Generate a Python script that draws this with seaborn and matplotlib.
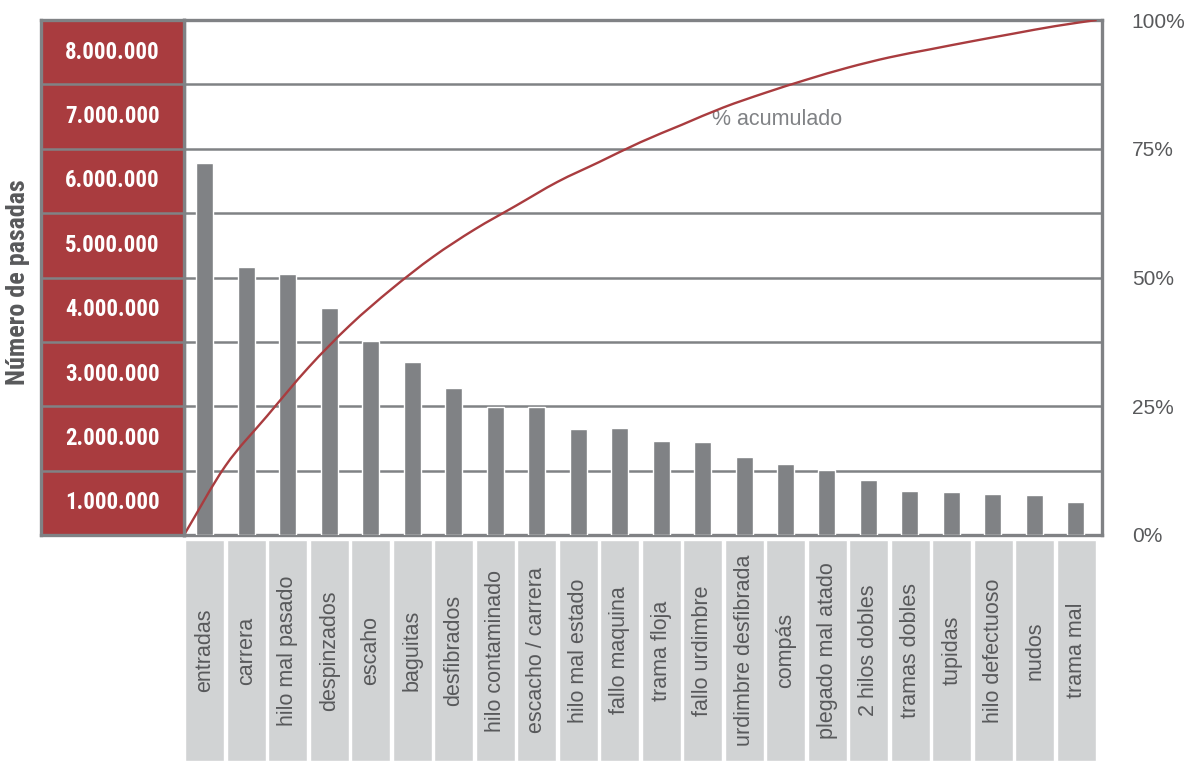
import matplotlib
matplotlib.use("Agg")
import matplotlib.pyplot as plt
from matplotlib import font_manager as fm
from matplotlib.path import Path
from matplotlib.patches import PathPatch
import seaborn as sns
import numpy as np
import pandas as pd

categories = ["entradas", "carrera", "hilo mal pasado", "despinzados", "escaho",
              "baguitas", "desfibrados", "hilo contaminado", "escacho / carrera",
              "hilo mal estado", "fallo maquina", "trama floja", "fallo urdimbre",
              "urdimbre desfibrada", "compás", "plegado mal atado", "2 hilos dobles",
              "tramas dobles", "tupidas", "hilo defectuoso", "nudos", "trama mal"]
pasadas = [5785000, 4156000, 4062000, 3533000, 3019000, 2693000, 2288000,
           1992000, 1992000, 1650000, 1665000, 1463000, 1447000, 1214000,
           1105000, 1012000, 856000, 685000, 669000, 638000, 623000, 514000]
y_ticks = [0, 1000000, 2000000, 3000000, 4000000, 5000000, 6000000, 7000000, 8000000]
y_tick_labels = ["1.000.000", "2.000.000", "3.000.000", "4.000.000",
                 "5.000.000", "6.000.000", "7.000.000", "8.000.000"]
pct_ticks = [0, 25, 50, 75, 100]
pct_labels = ["0%", "25%", "50%", "75%", "100%"]

RED = "#a93c3f"
GRID = "#808285"
BAR = "#808285"
BOX = "#d1d3d4"
TXT = "#58595b"

sns.set_theme(style="white")
plt.rcParams['font.family'] = ['Liberation Sans', 'DejaVu Sans']

# pick a condensed bold face if one is installed
names = {f.name for f in fm.fontManager.ttflist}
cond_dejavu = any(f.name == "DejaVu Sans" and "Condensed" in f.fname for f in fm.fontManager.ttflist)
if "Liberation Sans Narrow" in names:
    NARROW = dict(family=["Liberation Sans Narrow", "DejaVu Sans"])
    TICK_FS, YL_FS = 17, 18.5
elif "Roboto Condensed" in names:
    NARROW = dict(family=["Roboto Condensed", "DejaVu Sans"])
    TICK_FS, YL_FS = 16.5, 18.7
elif cond_dejavu:
    NARROW = dict(family=["DejaVu Sans"], stretch="condensed")
    TICK_FS, YL_FS = 14.5, 16.5
else:
    NARROW = dict(family=["Roboto", "DejaVu Sans"])
    TICK_FS, YL_FS = 14.5, 16.5

W, H = 1201, 761
def rect(x0, y0, x1, y1):
    return [x0 / W, 1 - y1 / H, (x1 - x0) / W, (y1 - y0) / H]

fig = plt.figure(figsize=(W / 100, H / 100), dpi=100)

# main bar axes
ax = fig.add_axes(rect(184, 20, 1102, 535))
df = pd.DataFrame({"defecto": categories, "pasadas": pasadas})
sns.barplot(data=df, x="defecto", y="pasadas", color=BAR, saturation=1,
            width=0.41, ax=ax, zorder=3)
ax.set_xlim(-0.5, 21.63)
ax.set_ylim(y_ticks[0], y_ticks[-1])
ax.set_yticks(y_ticks)
ax.set_axisbelow(True)
ax.yaxis.grid(True, color=GRID, lw=1.8)
ax.set_xticks([])
ax.set_xlabel("")
ax.set_ylabel("")
ax.tick_params(left=False, labelleft=False, bottom=False)
for s in ax.spines.values():
    s.set_visible(True)
    s.set_color(GRID)
    s.set_linewidth(2.4)

# cumulative percentage (smooth curve through the cumulative points)
vals = np.array(pasadas, dtype=float)
cum = np.concatenate([[0.0], np.cumsum(vals) / vals.sum() * 100])
edges = np.arange(len(categories) + 1) - 0.5
ax2 = ax.twinx()
ax2.set_ylim(0, 100)
P = np.column_stack([edges, cum])
Pext = np.vstack([P[0] - (P[1] - P[0]), P, P[-1] + (P[-1] - P[-2]) * 0.2])
verts = [tuple(P[0])]
codes = [Path.MOVETO]
for k in range(1, len(Pext) - 2):
    p0, p1, p2, p3 = Pext[k - 1], Pext[k], Pext[k + 1], Pext[k + 2]
    c1 = p1 + (p2 - p0) / 6
    c2 = p2 - (p3 - p1) / 6
    verts += [tuple(c1), tuple(c2), tuple(p2)]
    codes += [Path.CURVE4] * 3
ax2.add_patch(PathPatch(Path(verts, codes), fill=False, edgecolor=RED, lw=1.7, zorder=5))
ax2.set_yticks(pct_ticks)
ax2.set_yticklabels(pct_labels)
ax2.tick_params(right=False, pad=15.5, labelsize=15, labelcolor=TXT)
for s in ax2.spines.values():
    s.set_visible(False)
ax2.text(13.8, 80.6, "% acumulado", ha="center", va="center", color=GRID, fontsize=15.5)

# red panel with y labels
pax = fig.add_axes(rect(41, 20, 184, 535))
pax.set_facecolor(RED)
pax.set_xlim(0, 1)
pax.set_ylim(y_ticks[0], y_ticks[-1])
pax.set_yticks(y_ticks)
pax.yaxis.grid(True, color=GRID, lw=1.8)
pax.set_xticks([])
pax.tick_params(left=False, labelleft=False)
for s in pax.spines.values():
    s.set_visible(True)
    s.set_color(GRID)
    s.set_linewidth(2.4)
for k, lab in enumerate(y_tick_labels):
    pax.text(0.5, (y_ticks[k] + y_ticks[k + 1]) / 2, lab, ha="center", va="center",
             color="white", fontsize=TICK_FS, fontweight="bold", **NARROW)

fig.text(18 / W, 1 - 282 / H, "Número de pasadas", rotation=90, ha="center", va="center",
         color=TXT, fontsize=YL_FS, fontweight="bold", **NARROW)

# category label boxes
lax = fig.add_axes(rect(184, 540, 1097, 761))
lax.bar(np.arange(len(categories)), [1] * len(categories), width=0.95, color=BOX)
lax.set_xlim(-0.5, len(categories) - 0.5)
lax.set_ylim(0, 1)
lax.axis("off")
for i, c in enumerate(categories):
    lax.text(i, 0.5, c, rotation=90, ha="center", va="center", color=TXT, fontsize=15.5)

fig.savefig("out.png", dpi=100)
